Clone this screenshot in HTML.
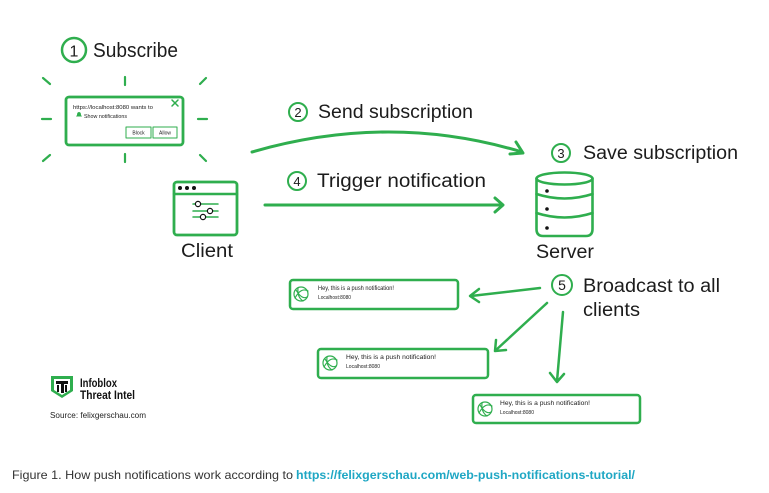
<!DOCTYPE html>
<html><head><meta charset="utf-8"><style>
html,body{margin:0;padding:0;background:#fff;}
body{width:769px;height:493px;overflow:hidden;position:relative;}
svg{position:absolute;left:0;top:0;}
</style></head><body>
<svg width="769" height="493" viewBox="0 0 769 493" xmlns="http://www.w3.org/2000/svg" font-family="Liberation Sans, sans-serif">
<g fill="none" stroke="#2fae4e" stroke-linecap="round" stroke-linejoin="round">
  <!-- Step 1 -->
  <circle cx="74" cy="50" r="12" stroke-width="2.5"/>
  <!-- rays -->
  <g stroke-width="2.2">
    <line x1="125" y1="77" x2="125" y2="85"/>
    <line x1="125" y1="154" x2="125" y2="162"/>
    <line x1="42" y1="119" x2="51" y2="119"/>
    <line x1="198" y1="119" x2="207" y2="119"/>
    <line x1="43" y1="78" x2="50" y2="84"/>
    <line x1="206" y1="78" x2="200" y2="84"/>
    <line x1="43" y1="161" x2="50" y2="155"/>
    <line x1="200" y1="155" x2="206" y2="161"/>
  </g>
  <rect x="66" y="97" width="117" height="48" rx="3" stroke-width="2.8"/>
  <g stroke-width="1.5"><line x1="172" y1="100" x2="178" y2="106"/><line x1="178" y1="100" x2="172" y2="106"/></g>
  <rect x="126" y="127" width="25" height="11" stroke-width="1"/>
  <rect x="153" y="127" width="24" height="11" stroke-width="1"/>
  <!-- client icon -->
  <rect x="174" y="182" width="63" height="53" rx="3" stroke-width="2.8"/>
  <line x1="174" y1="194" x2="237" y2="194" stroke-width="2.5"/>
  <g stroke-width="1.5">
    <line x1="193" y1="204" x2="218" y2="204"/>
    <line x1="193" y1="211" x2="218" y2="211"/>
    <line x1="193" y1="217" x2="218" y2="217"/>
  </g>
  <!-- step 2 arrow -->
  <path d="M252 152 Q390 112 522 152" stroke-width="3"/>
  <path d="M510 154 L523 153 L516 142" stroke-width="3"/>
  <circle cx="298" cy="112" r="9" stroke-width="2"/>
  <!-- step 4 arrow -->
  <line x1="265" y1="205" x2="502" y2="205" stroke-width="3"/>
  <path d="M495 198 L503 205 L495 212" stroke-width="3"/>
  <circle cx="297" cy="181" r="9" stroke-width="2"/>
  <!-- step 3 -->
  <circle cx="561" cy="153" r="9" stroke-width="2"/>
  <!-- server -->
  <g stroke-width="2.6">
    <ellipse cx="564.5" cy="178.5" rx="28" ry="6"/>
    <path d="M536.5 178.5 V229 Q536.5 236 543 236 H586 Q592.5 236 592.5 229 V178.5"/>
    <path d="M536.5 194 Q564.5 203 592.5 194"/>
    <path d="M536.5 213 Q564.5 222 592.5 213"/>
  </g>
  <!-- step 5 -->
  <circle cx="562" cy="285" r="10" stroke-width="2"/>
  <g stroke-width="2.5">
    <line x1="540" y1="288" x2="471" y2="296"/>
    <path d="M479 289 L470 296 L479 302"/>
    <line x1="547" y1="303" x2="496" y2="350"/>
    <path d="M496 340 L495 351 L506 350"/>
    <line x1="563" y1="312" x2="557" y2="381"/>
    <path d="M550 373 L557 382 L564 374"/>
  </g>
  <!-- notifications -->
  <g stroke-width="2.5">
    <rect x="290" y="280" width="168" height="29" rx="3"/>
    <rect x="318" y="349" width="170" height="29" rx="3"/>
    <rect x="473" y="395" width="167" height="28" rx="3"/>
  </g>
  <g stroke-width="1.2">
    <circle cx="301" cy="294" r="7"/><path d="M295 298 Q301 287 308 291 M296 290 Q302 300 307 297 M298 288 Q297 297 303 301"/>
    <circle cx="330" cy="363" r="7"/><path d="M324 367 Q330 356 337 360 M325 359 Q331 369 336 366 M327 357 Q326 366 332 370"/>
    <circle cx="485" cy="409" r="7"/><path d="M479 413 Q485 402 492 406 M480 405 Q486 415 491 412 M482 403 Q481 412 487 416"/>
  </g>
</g>
<!-- fills -->
<g fill="#111">
  <circle cx="180" cy="188" r="2"/><circle cx="187" cy="188" r="2"/><circle cx="194" cy="188" r="2"/>
  <circle cx="547" cy="191" r="1.8"/><circle cx="547" cy="209" r="1.8"/><circle cx="547" cy="228" r="1.8"/>
</g>
<g fill="#fff" stroke="#111" stroke-width="1.2">
  <circle cx="198" cy="204" r="2.6"/><circle cx="210" cy="211" r="2.6"/><circle cx="203" cy="217" r="2.6"/>
</g>
<path d="M77 115 q0 -3 2 -3 q2 0 2 3 l1 1.5 h-6 z" fill="#2fae4e"/>
<!-- labels -->
<g fill="#1c1c1c">
  <text x="74" y="56.5" font-size="16" text-anchor="middle">1</text>
  <text x="93" y="57" font-size="20" textLength="85" lengthAdjust="spacingAndGlyphs">Subscribe</text>
  <text x="73" y="109" font-size="5.5" textLength="80" lengthAdjust="spacingAndGlyphs">https://localhost:8080 wants to</text>
  <text x="84" y="118" font-size="5" textLength="43" lengthAdjust="spacingAndGlyphs">Show notifications</text>
  <text x="138.5" y="134.5" font-size="5" text-anchor="middle">Block</text>
  <text x="165" y="134.5" font-size="5" text-anchor="middle">Allow</text>
  <text x="181" y="257" font-size="19" textLength="52" lengthAdjust="spacingAndGlyphs">Client</text>
  <text x="298" y="117" font-size="13" text-anchor="middle">2</text>
  <text x="318" y="118" font-size="19" textLength="155" lengthAdjust="spacingAndGlyphs">Send subscription</text>
  <text x="297" y="186" font-size="13" text-anchor="middle">4</text>
  <text x="317" y="187" font-size="19" textLength="169" lengthAdjust="spacingAndGlyphs">Trigger notification</text>
  <text x="561" y="158" font-size="13" text-anchor="middle">3</text>
  <text x="583" y="159" font-size="19" textLength="155" lengthAdjust="spacingAndGlyphs">Save subscription</text>
  <text x="536" y="258" font-size="19" textLength="58" lengthAdjust="spacingAndGlyphs">Server</text>
  <text x="562" y="290" font-size="14" text-anchor="middle">5</text>
  <text x="583" y="292" font-size="19" textLength="137" lengthAdjust="spacingAndGlyphs">Broadcast to all</text>
  <text x="583" y="316" font-size="19" textLength="57" lengthAdjust="spacingAndGlyphs">clients</text>
  <text x="318" y="290" font-size="6" textLength="76" lengthAdjust="spacingAndGlyphs">Hey, this is a push notification!</text>
  <text x="318" y="299" font-size="5.5" textLength="33" lengthAdjust="spacingAndGlyphs">Localhost:8080</text>
  <text x="346" y="359" font-size="6" textLength="90" lengthAdjust="spacingAndGlyphs">Hey, this is a push notification!</text>
  <text x="346" y="368" font-size="5.5" textLength="34" lengthAdjust="spacingAndGlyphs">Localhost:8080</text>
  <text x="500" y="405" font-size="6" textLength="90" lengthAdjust="spacingAndGlyphs">Hey, this is a push notification!</text>
  <text x="500" y="414" font-size="5.5" textLength="34" lengthAdjust="spacingAndGlyphs">Localhost:8080</text>
</g>
<!-- Infoblox logo -->
<path d="M51 376 H73 V391 L62 398 L51 391 Z" fill="#2fae4e"/>
<path d="M54 379 H70 V390 L62 395 L54 390 Z" fill="#fff"/>
<path d="M56 381 H68 V384 H64 V393 H61 V384 H56 Z" fill="#111"/>
<rect x="57" y="385" width="2" height="7" fill="#111"/><rect x="65" y="385" width="2" height="7" fill="#111"/>
<text x="80" y="387" font-size="11.5" font-weight="bold" fill="#111" textLength="37" lengthAdjust="spacingAndGlyphs">Infoblox</text>
<text x="80" y="399" font-size="11.5" font-weight="bold" fill="#111" textLength="55" lengthAdjust="spacingAndGlyphs">Threat Intel</text>
<text x="50" y="418" font-size="8" fill="#222" textLength="96" lengthAdjust="spacingAndGlyphs">Source: felixgerschau.com</text>
<!-- caption -->
<text x="12" y="479" font-size="12" fill="#333" textLength="281" lengthAdjust="spacingAndGlyphs">Figure 1. How push notifications work according to</text>
<text x="296" y="479" font-size="12" font-weight="bold" fill="#1fa7c4" textLength="339" lengthAdjust="spacingAndGlyphs">https://felixgerschau.com/web-push-notifications-tutorial/</text>
</svg>
</body></html>
